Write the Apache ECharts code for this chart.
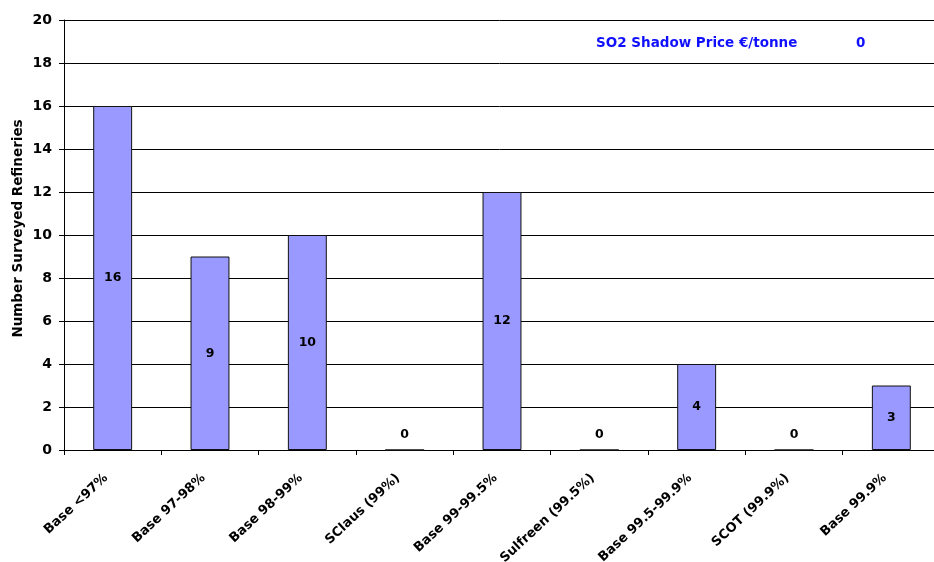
<!DOCTYPE html>
<html><head><meta charset="utf-8">
<script src="https://cdn.jsdelivr.net/npm/echarts@6/dist/echarts.min.js"></script>
<style>html,body{margin:0;padding:0;background:#fff}#c{width:934px;height:562px}</style>
</head><body><div id="c"></div>
<script>
const categories = ["Base <97%","Base 97-98%","Base 98-99%","SClaus (99%)","Base 99-99.5%","Sulfreen (99.5%)","Base 99.5-99.9%","SCOT (99.9%)","Base 99.9%"];
const values = [16,9,10,0,12,0,4,0,3];
const yTicks = {min:0,max:20,interval:2};
const yAxisTitle = "Number Surveyed Refineries";
const noteLabel = "SO2 Shadow Price €/tonne";
const noteValue = "0";

const font = "'DejaVu Sans', sans-serif";
const chart = echarts.init(document.getElementById('c'));
chart.setOption({
  animation:false,
  grid:{left:64, top:20, width:876, height:430, containLabel:false, outerBoundsMode:'none'},
  xAxis:{type:'category', data:categories,
    axisLine:{lineStyle:{color:'#000',width:1}},
    axisTick:{show:true, length:5, lineStyle:{color:'#000'}},
    axisLabel:{rotate:43, color:'#000', fontWeight:'bold', fontSize:13, fontFamily:font, margin:20, interval:0, padding:[0,9,0,0]}
  },
  yAxis:{type:'value', min:yTicks.min, max:yTicks.max, interval:yTicks.interval,
    name:yAxisTitle, nameLocation:'middle', nameGap:39, nameMoveOverlap:false,
    nameTextStyle:{color:'#000', fontWeight:'bold', fontSize:13.5, fontFamily:font, padding:[0,0,0,13]},
    axisLine:{show:true, lineStyle:{color:'#000',width:1}},
    axisTick:{show:true, length:5, lineStyle:{color:'#000'}},
    axisLabel:{color:'#000', fontWeight:'bold', fontSize:14, fontFamily:font, margin:12},
    splitLine:{lineStyle:{color:'#000',width:1}}
  },
  series:[{type:'bar', barWidth:'40%',
    data: values.map(v => v === 0
      ? {value:v, label:{position:'top', distance:8}}
      : {value:v}),
    itemStyle:{color:'#9999FF', borderColor:'#111', borderWidth:1},
    label:{show:true, position:'inside', color:'#000', fontWeight:'bold', fontSize:12.5, fontFamily:font}
  }],
  graphic:[
    {type:'text', left:596, top:36, style:{text:noteLabel, fill:'#1010FF', font:'bold 13.5px '+font}},
    {type:'text', left:856, top:36, style:{text:noteValue, fill:'#1010FF', font:'bold 13.5px '+font}}
  ]
});
</script></body></html>
